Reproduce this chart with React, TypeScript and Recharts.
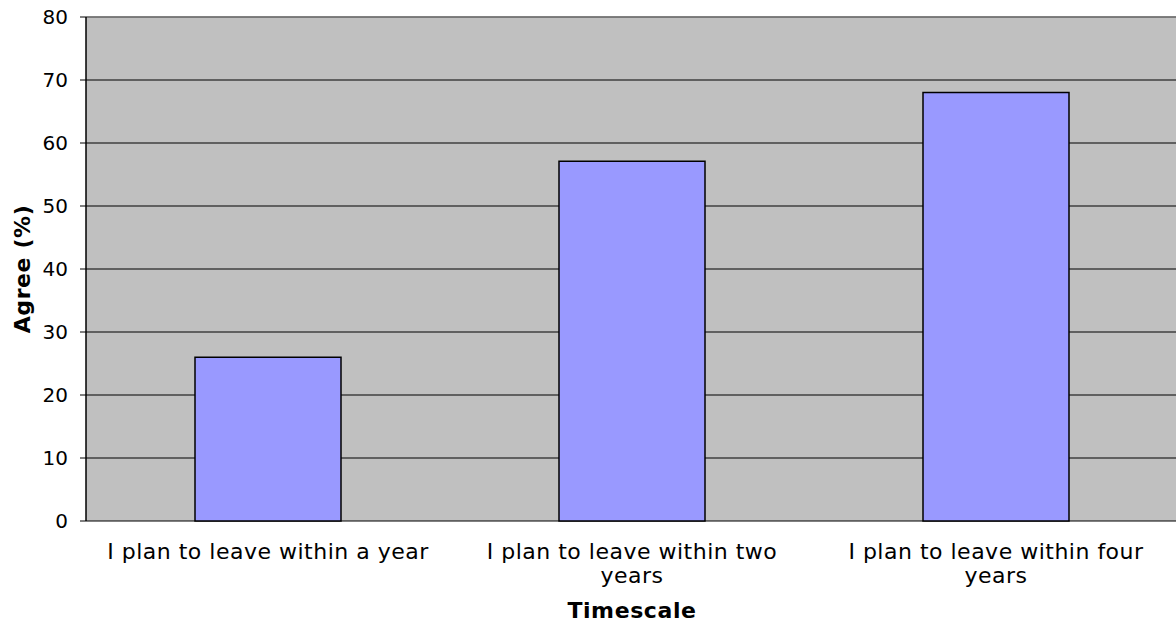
import React from "react"
import {
  BarChart,
  Bar,
  XAxis,
  YAxis,
  CartesianGrid,
  ReferenceLine,
} from "recharts"

const categories = [
  "I plan to leave within a year",
  "I plan to leave within two years",
  "I plan to leave within four years",
]
const agreeValues = [26, 57.1, 68]
const yTicks = [0, 10, 20, 30, 40, 50, 60, 70, 80]
const boundaryTicks = [0, 1, 2, 3]

const data = categories.map((label, i) => ({ label, value: agreeValues[i], pos: i + 0.5 }))

const FONT = "'DejaVu Sans', Verdana, sans-serif"
const MAX_CHARS = 29

// greedy word wrap, the original breaks the longer labels onto two lines
function wrap(text: string) {
  const lines: string[] = []
  let cur = ""
  for (const w of text.split(" ")) {
    const next = cur ? cur + " " + w : w
    if (next.length > MAX_CHARS && cur) {
      lines.push(cur)
      cur = w
    } else {
      cur = next
    }
  }
  if (cur) lines.push(cur)
  return lines
}

function CategoryTick({ x, y, payload }: any) {
  const lines = wrap(String(payload.value))
  return (
    <text
      x={x}
      y={y + 30}
      textAnchor="middle"
      fontSize={22}
      fontFamily={FONT}
      fill="#000"
      style={{ letterSpacing: 0.5 }}
    >
      {lines.map((ln, i) => (
        <tspan key={i} x={x} dy={i === 0 ? 0 : 24}>
          {ln}
        </tspan>
      ))}
    </text>
  )
}

export default function App() {
  return (
    <div style={{ position: "absolute", left: 0, top: 0, width: 1176, height: 625, overflow: "hidden", background: "#fff" }}>
      <BarChart
        width={1178}
        height={625}
        data={data}
        margin={{ top: 17, right: 0, left: 0, bottom: 0 }}
        barSize={146}
      >
        <CartesianGrid
          xAxisId="cat"
          fill="#C0C0C0"
          fillOpacity={1}
          stroke="#000"
          strokeWidth={1}
          vertical={false}
        />
        <XAxis
          xAxisId="bounds"
          type="number"
          dataKey="pos"
          domain={[0, 3]}
          ticks={boundaryTicks}
          tick={false}
          tickSize={6}
          tickLine={{ stroke: "#000" }}
          axisLine={{ stroke: "#000", strokeWidth: 1.5 }}
          height={0}
        />
        <XAxis
          xAxisId="cat"
          dataKey="label"
          interval={0}
          tickLine={false}
          axisLine={false}
          tick={<CategoryTick />}
          height={104}
          label={{
            value: "Timescale",
            position: "insideBottom",
            offset: 7,
            style: { fontFamily: FONT, fontSize: 22, fontWeight: "bold", fill: "#000", letterSpacing: 0.6 },
          }}
        />
        <YAxis
          domain={[0, 80]}
          ticks={yTicks}
          width={86}
          tickSize={6}
          tickMargin={12}
          tickLine={{ stroke: "#000" }}
          axisLine={{ stroke: "#000", strokeWidth: 1.5 }}
          tick={{ fontFamily: FONT, fontSize: 20, fill: "#000" }}
          label={{
            value: "Agree (%)",
            angle: -90,
            position: "insideLeft",
            offset: 22,
            style: { textAnchor: "middle", fontFamily: FONT, fontSize: 22, fontWeight: "bold", fill: "#000", letterSpacing: 0.6 },
          }}
        />
        <ReferenceLine y={80} xAxisId="cat" stroke="#808080" strokeWidth={1.5} />
        <Bar
          xAxisId="cat"
          dataKey="value"
          fill="#9999FF"
          stroke="#000"
          strokeWidth={1.5}
          isAnimationActive={false}
        />
      </BarChart>
    </div>
  )
}
